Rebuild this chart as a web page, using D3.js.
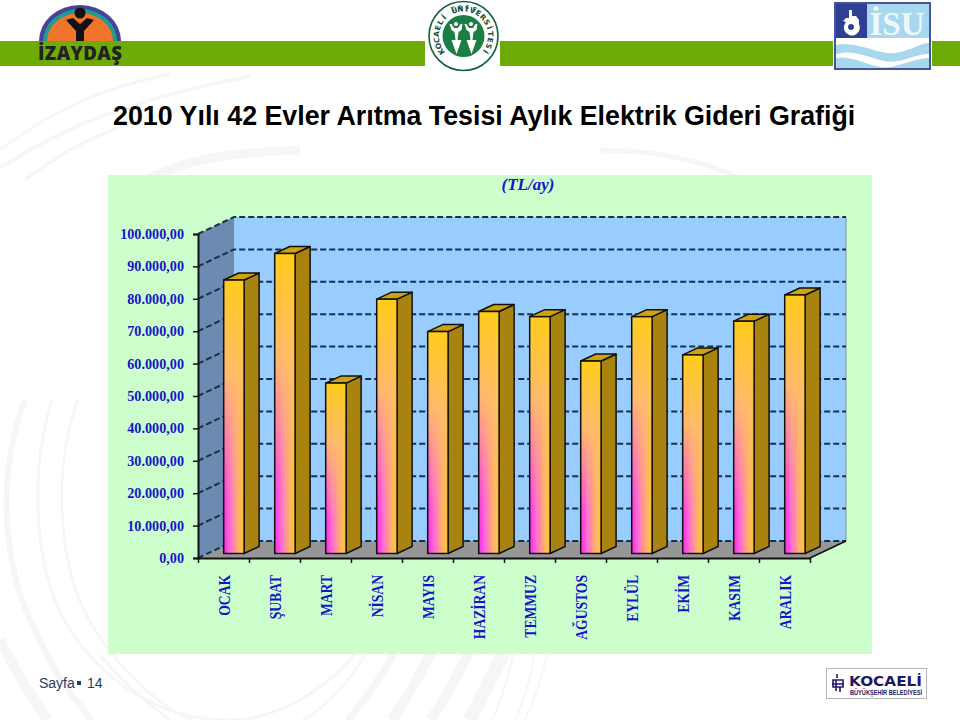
<!DOCTYPE html>
<html><head><meta charset="utf-8">
<script src="https://cdnjs.cloudflare.com/ajax/libs/d3/7.8.5/d3.min.js"></script>
<style>html,body{margin:0;padding:0;background:#fff}svg{display:block}</style></head>
<body><svg id="c" width="960" height="720" viewBox="0 0 960 720"></svg>
<script>
const months = ["OCAK","ŞUBAT","MART","NİSAN","MAYIS","HAZİRAN","TEMMUZ","AĞUSTOS","EYLÜL","EKİM","KASIM","ARALIK"];
const costs = [84400,92600,52600,78500,68500,74700,73100,59400,73100,61300,71700,79800];
const yTicks = [0,10000,20000,30000,40000,50000,60000,70000,80000,90000,100000];
const titleText = "2010 Yılı 42 Evler Arıtma Tesisi Aylık Elektrik Gideri Grafiği";
const unitText = "(TL/ay)";
const pageLabel = "Sayfa";
const pageNumber = "14";

const svg = d3.select("#c");
const defs = svg.append("defs");
const blue = "#1414c8";

// ---- faint background swooshes
const swooshes = [
 ["M0,150C50,112 100,88 170,74",3],["M0,168C60,128 130,100 250,76",4],["M25,180C70,145 120,122 175,112",3],
 ["M150,178C190,160 220,153 300,150",9],["M740,178C700,160 650,150 600,150",5],
 ["M25,400C-2,470 0,560 35,630C50,665 70,695 92,720",6],
 ["M52,400C30,470 32,570 70,630C110,690 170,722 235,720C290,716 335,680 358,650",3],
 ["M78,400C52,470 58,570 92,625C135,695 195,735 255,735C310,730 345,690 368,650",2.5],
 ["M0,640C15,670 30,695 48,720",10],["M100,655C130,690 150,705 170,720",3],
 ["M396,650C380,680 365,700 348,720",7],["M432,650C418,680 405,700 392,720",10],
 ["M470,650C455,680 445,700 430,720",10],["M505,650C490,680 480,700 470,720",14],
 ["M514,650C508,680 502,700 492,720",2],["M535,650C530,680 525,700 515,720",2],["M548,650C542,680 535,700 525,720",2]
];
svg.append("g").attr("fill","none").attr("stroke","#f6f6f6").selectAll("path").data(swooshes).join("path")
  .attr("d",d=>d[0]).attr("stroke-width",d=>d[1]);

// ---- header band
const green="#6fab07";
svg.append("rect").attr("x",0).attr("y",41).attr("width",960).attr("height",25).attr("fill",green);

// IZAYDAS logo
const iz = svg.append("g");
const dome=(rx,ry,f)=>iz.append("path").attr("d",`M${80-rx},41A${rx},${ry} 0 0 1 ${80+rx},41Z`).attr("fill",f);
dome(41,36,"#47419b"); dome(37,32,"#1f9c8c"); dome(33,28,"#f0742a");
iz.append("circle").attr("cx",80).attr("cy",13).attr("r",5.5).attr("fill","#111");
iz.append("path").attr("d","M66,20L73,18L80,24L87,18L94,20L84,31L84,41L76,41L76,31Z").attr("fill","#111");
iz.append("text").attr("x",38).attr("y",60).attr("font-family","'Open Sans'").attr("font-weight",800).attr("font-size",18.6).attr("letter-spacing",.4).attr("fill","#222").text("İZAYDAŞ");

// University logo
const ku = svg.append("g");
ku.append("rect").attr("x",425).attr("y",0).attr("width",75).attr("height",73).attr("fill","#fff");
ku.append("circle").attr("cx",463.5).attr("cy",36).attr("r",34.5).attr("fill","#fff").attr("stroke","#14603a").attr("stroke-width",1.6);
ku.append("circle").attr("cx",463.5).attr("cy",36).attr("r",21).attr("fill","#1b7f45");
const ring = (str,a0,a1,r,size,flip) => {
  const ch = Array.from(str), n = ch.length;
  ku.append("g").attr("font-family","'DejaVu Sans'").attr("font-weight",700).attr("font-size",size).attr("fill","#14502f").attr("text-anchor","middle")
    .selectAll("text").data(ch).join("text").text(d=>d)
    .attr("transform",(d,i)=>{const a=a0+(a1-a0)*i/(n-1),t=a*Math.PI/180;
       return `translate(${463.5+r*Math.sin(t)},${36-r*Math.cos(t)}) rotate(${flip?a+180:a})`;});
};
ring("KOCAELİ ÜNİVERSİTESİ",-125,125,24.5,7.4,false);
ring("1993",-22,22,31,5.5,true);
// two stylised figures
ku.append("g").attr("fill","#fff").selectAll("path").data([456,471]).join("path")
  .attr("d",c=>`M${c-6.5},24l2,0l2.5,4h4l2.5,-4l2,0l-1,6l-3,2l-1,8l4,0l-5,14l-5,-14l4,0l-1,-8l-3,-2Z`);
ku.append("g").attr("fill","#fff").selectAll("circle").data([456,471]).join("circle").attr("cx",c=>c).attr("cy",24).attr("r",2);

// ISU logo
const is = svg.append("g");
is.append("rect").attr("x",833).attr("y",1).attr("width",99).attr("height",71).attr("fill","#fff");
is.append("rect").attr("x",835).attr("y",3).attr("width",95).attr("height",66).attr("fill","#fff").attr("stroke","#2f4393").attr("stroke-width",1.8);
is.append("rect").attr("x",866).attr("y",4).attr("width",63).attr("height",34).attr("fill","#a9d8ee");
is.append("rect").attr("x",836).attr("y",4).attr("width",31).attr("height",34).attr("fill","#2f3f94");
is.append("text").attr("x",897).attr("y",35).attr("text-anchor","middle").attr("font-family","'Liberation Serif'").attr("font-size",33).attr("font-weight",700).attr("fill","#eef8fc").text("İSU");
is.append("path").attr("fill","#fff").attr("d","M849,10h3v6h4l3,4v4a8,8 0 1 1 -13,-2l-3,-1l3,-3h3Z");
is.append("circle").attr("cx",851).attr("cy",27).attr("r",3).attr("fill","#2f3f94");
is.append("path").attr("fill","#a9d8ee").attr("d","M836,45C860,40 880,58 900,52C915,48 922,43 929,43V54C912,54 900,66 880,60C860,54 850,50 836,54Z");
is.append("path").attr("fill","#a9d8ee").attr("d","M836,58C855,54 875,72 895,66C910,62 920,58 929,58V68H836Z");

// ---- chart panel
svg.append("rect").attr("x",108).attr("y",175).attr("width",764).attr("height",479).attr("fill","#ccffcc");

// ---- scales
const depth = {dx:36, dy:-17};          // floor depth of the 3-D box
const barDepth = {dx:15, dy:-7};        // depth of a single bar
const inset = {dx:10.4, dy:-4.5};       // bar front relative to box front
const x = d3.scaleBand().domain(months).range([198,810]).paddingInner(.6).paddingOuter(.3);
const xEdge = d3.scaleLinear().domain([0,months.length]).range([198,810]);
const y = d3.scaleLinear().domain([0,100000]).range([558,234]);
const tr = d3.formatLocale({decimal:",",thousands:".",grouping:[3],currency:["","TL"]});

const g = svg.append("g");
const x0=x.range()[0], x1=x.range()[1], y0=y(0), yTop=y(100000);

// back wall, left wall, floor
g.append("path").attr("d",`M${x0+depth.dx},${yTop+depth.dy}H${x1+depth.dx}V${y0+depth.dy}H${x0+depth.dx}Z`).attr("fill","#99ccff");
g.append("path").attr("d",`M${x0},${yTop}L${x0+depth.dx},${yTop+depth.dy}V${y0+depth.dy}L${x0},${y0}Z`).attr("fill","#6b8bb0");
g.append("path").attr("d",`M${x0},${y0}L${x0+depth.dx},${y0+depth.dy}H${x1+depth.dx}L${x1},${y0}Z`).attr("fill","#969696");
g.append("path").attr("d",`M${x1+depth.dx},${yTop+depth.dy}V${y0+depth.dy}`).attr("stroke","#7f8f9f").attr("stroke-width",1);

// gridlines
const gl = g.append("g").attr("fill","none").attr("stroke","#16304f").attr("stroke-width",2).attr("stroke-dasharray","6 3");
gl.selectAll("path").data(yTicks).join("path")
  .attr("d",t=>`M${x0},${y(t)}L${x0+depth.dx},${y(t)+depth.dy}H${x1+depth.dx}`);

// gradients
const hg = defs.append("linearGradient").attr("id","hg");
hg.append("stop").attr("offset",0).attr("stop-color","#ff22ee");
hg.append("stop").attr("offset",.3).attr("stop-color","#ff66dd");
hg.append("stop").attr("offset",.75).attr("stop-color","#ffb860");
hg.append("stop").attr("offset",1).attr("stop-color","#ffc430");
const vg = defs.append("linearGradient").attr("id","vg").attr("x1",0).attr("y1",0).attr("x2",0).attr("y2",1);
vg.append("stop").attr("offset",0).attr("stop-color","#ffcc1c").attr("stop-opacity",1);
vg.append("stop").attr("offset",.35).attr("stop-color","#ffbe66").attr("stop-opacity",.95);
vg.append("stop").attr("offset",.8).attr("stop-color","#ffb070").attr("stop-opacity",.1);
vg.append("stop").attr("offset",1).attr("stop-color","#ffb070").attr("stop-opacity",0);

// bars
const bars = g.append("g").selectAll("g").data(months.map((m,i)=>({m,v:costs[i]}))).join("g");
const fx=d=>x(d.m)+inset.dx, ft=d=>y(d.v)+inset.dy, fb=y(0)+inset.dy, bw=x.bandwidth();
const edge={stroke:"#111",w:1.5};
bars.append("path").attr("fill","#a88310").attr("stroke",edge.stroke).attr("stroke-width",edge.w).attr("stroke-linejoin","round")
  .attr("d",d=>`M${fx(d)+bw},${ft(d)}l${barDepth.dx},${barDepth.dy}V${fb+barDepth.dy}l${-barDepth.dx},${-barDepth.dy}Z`);
bars.append("path").attr("fill","#cfa30c").attr("stroke",edge.stroke).attr("stroke-width",edge.w).attr("stroke-linejoin","round")
  .attr("d",d=>`M${fx(d)},${ft(d)}l${barDepth.dx},${barDepth.dy}h${bw}l${-barDepth.dx},${-barDepth.dy}Z`);
bars.append("rect").attr("x",fx).attr("y",ft).attr("width",bw).attr("height",d=>fb-ft(d)).attr("fill","url(#hg)");
bars.append("rect").attr("x",fx).attr("y",ft).attr("width",bw).attr("height",d=>fb-ft(d)).attr("fill","url(#vg)")
  .attr("stroke",edge.stroke).attr("stroke-width",edge.w);

// axes
const yAxis = d3.axisLeft(y).tickValues(yTicks).tickFormat(tr.format(",.2f")).tickSize(5).tickPadding(9);
const ya = g.append("g").attr("transform",`translate(${x0},0)`).call(yAxis);
ya.select(".domain").attr("stroke","#111").attr("stroke-width",2);
ya.selectAll(".tick line").attr("stroke","#111").attr("stroke-width",1.5);
ya.selectAll("text").attr("font-family","'Liberation Serif'").attr("font-weight",700).attr("font-size",14.2).attr("fill",blue);

const xa = g.append("g").attr("transform",`translate(0,${y0})`)
  .call(d3.axisBottom(xEdge).tickValues(d3.range(months.length+1)).tickFormat("").tickSize(5).tickSizeOuter(0));
xa.select(".domain").attr("stroke","#111").attr("stroke-width",2);
xa.selectAll(".tick line").attr("stroke","#111").attr("stroke-width",1.5);
g.append("path").attr("d",`M${x1},${y0}L${x1+depth.dx},${y0+depth.dy}`).attr("stroke","#111").attr("stroke-width",1.6);

const xl = g.append("g").attr("transform",`translate(0,${y0+17})`)
  .call(d3.axisBottom(x).tickSize(0).tickPadding(0));
xl.select(".domain").remove();
xl.selectAll("text").attr("font-family","'Liberation Serif'").attr("font-weight",700).attr("font-size",17).attr("fill",blue)
  .attr("text-anchor","end").attr("dy",0).attr("y",0).attr("x",0).attr("transform","rotate(-90) translate(0,6) scale(.8,1)");

// texts
svg.append("text").attr("x",528).attr("y",190).attr("text-anchor","middle").attr("font-family","'Liberation Serif'").attr("font-weight",700).attr("font-style","italic").attr("font-size",17).attr("fill",blue).text(unitText);
svg.append("text").attr("x",113).attr("y",124.5).attr("font-family","'Liberation Sans'").attr("font-weight",700).attr("font-size",26.8).attr("fill","#000").text(titleText);
const foot = svg.append("g").attr("font-family","'Liberation Sans'").attr("font-size",14).attr("fill","#1f3f5f");
foot.append("text").attr("x",39).attr("y",688).text(pageLabel);
foot.append("rect").attr("x",77).attr("y",681).attr("width",4).attr("height",4);
foot.append("text").attr("x",87).attr("y",688).text(pageNumber);

// Kocaeli logo
const kb = svg.append("g");
kb.append("rect").attr("x",826.5).attr("y",668.5).attr("width",100).attr("height",30).attr("fill","#fff").attr("stroke","#b5b5bb");
kb.append("text").attr("x",849).attr("y",685.5).attr("font-family","'DejaVu Sans'").attr("font-weight",700).attr("font-size",14).attr("fill","#1f1a66").attr("textLength",73).attr("lengthAdjust","spacingAndGlyphs").text("KOCAELİ");
kb.append("text").attr("x",850).attr("y",695).attr("font-family","'Liberation Sans'").attr("font-weight",700).attr("font-size",6.5).attr("fill","#1f1a66").attr("textLength",72).attr("lengthAdjust","spacingAndGlyphs").text("BÜYÜKŞEHİR BELEDİYESİ");
kb.append("path").attr("fill","none").attr("stroke","#1f1a66").attr("stroke-width",1.6).attr("d","M837,674v4M833,680h10v7h-10zM836,680v11M840,687v5M832,684h12");
</script></body></html>
